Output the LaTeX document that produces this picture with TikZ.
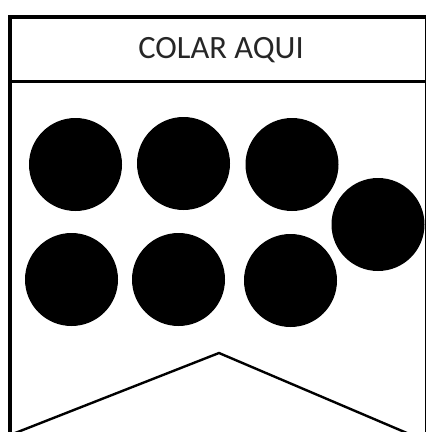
\documentclass[tikz,border=0pt]{standalone}
\usepackage{fontspec}
\setmainfont{Carlito}
\begin{document}
\begin{tikzpicture}[
  x=1pt, y=-1pt,
  every node/.style={font=\fontsize{32.5}{38}\selectfont, align=center},
  dot/.style={circle, fill=black, minimum size=93pt, inner sep=0pt}
]
  \useasboundingbox (0,0) rectangle (426,432);

  % Outer frame (open at the bottom)
  \draw[line width=4pt] (10,445) -- (10,16.5) -- (427.3,16.5) -- (427.3,445);
  % Header rule
  \draw[line width=3.5pt] (10,81.5) -- (427.3,81.5);

  % Header label
  \node[text=black!85] (label) at (221,50.5) {COLAR AQUI};

  % Dots, top row
  \node[dot] (d1) at (75.5,164.5) {};
  \node[dot] (d2) at (183.5,163.5) {};
  \node[dot] (d3) at (292,164.5) {};
  % Dot on the right
  \node[dot] (d4) at (378,224.5) {};
  % Dots, bottom row
  \node[dot] (d5) at (71.5,279.5) {};
  \node[dot] (d6) at (178.5,279.5) {};
  \node[dot] (d7) at (290.5,280.5) {};

  % Bottom chevron
  \draw[line width=2.4pt, line join=miter] (5,437) -- (219,353) -- (428,442);
\end{tikzpicture}
\end{document}
